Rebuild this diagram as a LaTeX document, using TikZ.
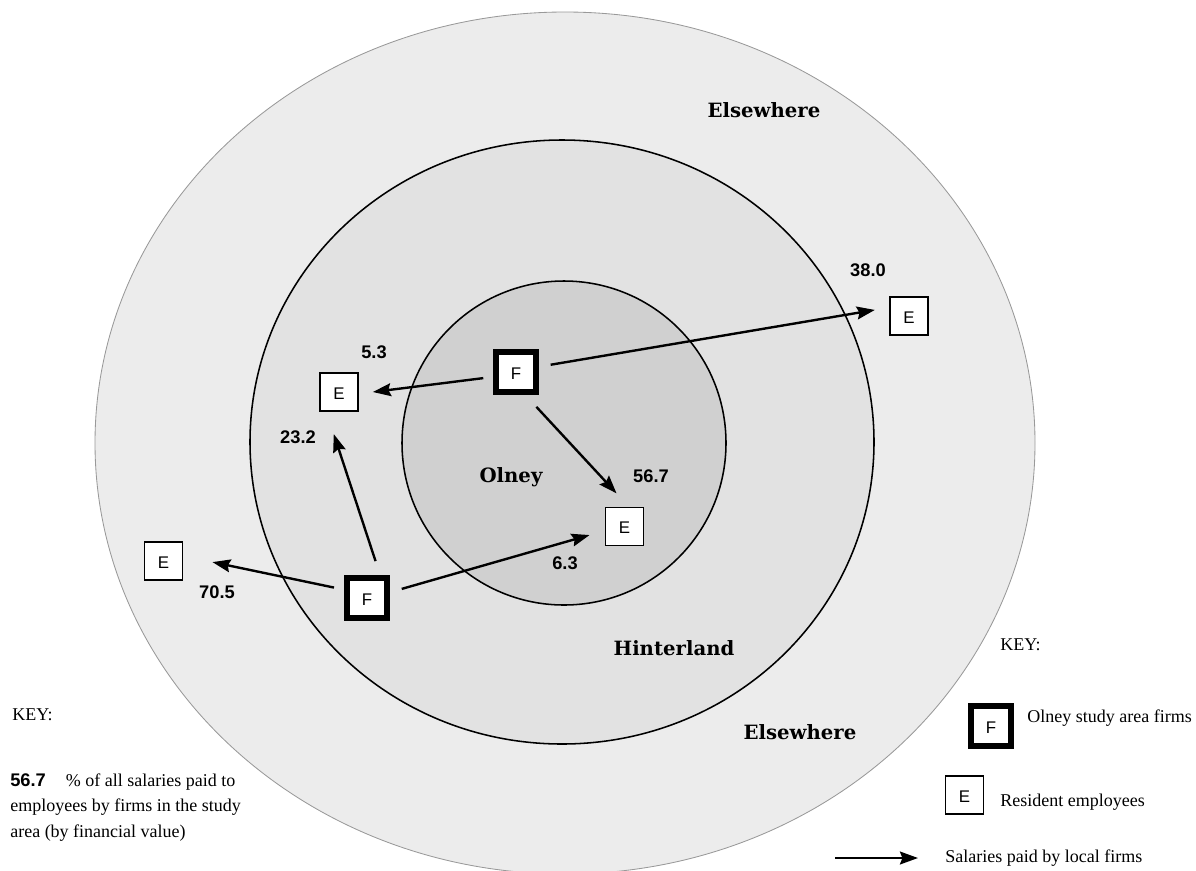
\documentclass[tikz,border=0pt]{standalone}
\usepackage{fontspec}
\setmainfont{Liberation Serif}
\setsansfont{Liberation Sans}
\newfontfamily\zonefont{DejaVu Serif}
\usepackage{xcolor}
\usepackage{tikz}
\usetikzlibrary{arrows.meta}
\definecolor{outerzone}{gray}{0.925}
\definecolor{middlezone}{gray}{0.885}
\definecolor{innerzone}{gray}{0.815}
\tikzstyle{firm} = [draw, rectangle, line width=4pt, fill=white, minimum
size=1cm, inner sep=0pt, text height=2.2ex, text depth=0pt,
font=\sffamily\fontsize{12}{12}\selectfont]
\tikzstyle{emp} = [draw, rectangle, line width=1.1pt, fill=white, minimum
size=0.96cm, inner sep=0pt, text height=2.2ex, text depth=0pt,
font=\sffamily\fontsize{12}{12}\selectfont]
\tikzstyle{arrow} = [line width=1.7pt,-{Stealth[length=0.45cm,width=0.32cm,inset=0.06cm]}]
\tikzstyle{value} = [inner sep=0pt, font=\sffamily\bfseries\fontsize{13}{13}\selectfont]
\tikzstyle{zone} = [inner sep=0pt, anchor=base, font=\zonefont\bfseries\fontsize{14}{14}\selectfont]
\tikzstyle{keytext} = [inner sep=0pt, anchor=base west, font=\fontsize{12.8}{12.8}\selectfont]

\begin{document}
\begin{tikzpicture}[x=0.025cm, y=-0.025cm]
\useasboundingbox (0,0) rectangle (1196,870);

% Place zones
\filldraw [fill=outerzone, draw=gray!80, line width=0.6pt] (565,443) ellipse [x radius=470, y radius=431];
\filldraw [fill=middlezone, draw=black, line width=1.1pt] (562,442) ellipse [x radius=312, y radius=302];
\filldraw [fill=innerzone, draw=black, line width=1.1pt] (564,443) ellipse [x radius=162, y radius=162];

\node [zone] (elsetop) at (764,117) {Elsewhere};
\node [zone] (olney) at (511,482) {Olney};
\node [zone] (hinter) at (674,655) {Hinterland};
\node [zone] (elsebot) at (800,739) {Elsewhere};

% Place nodes
\node [firm] (firmA) at (516,372) {F};
\node [firm] (firmB) at (367,598) {F};
\node [emp] (empNW) at (339,392) {E};
\node [emp] (empE) at (909,316) {E};
\node [emp] (empC) at (624.5,526.5) {E};
\node [emp] (empW) at (163.5,561) {E};

% Place lines
\draw [arrow, shorten <=0.3cm, shorten >=0.36cm] (firmA.13) -- (empE.157);
\draw [arrow, shorten <=0.25cm, shorten >=0.35cm] (firmA.192) -- (empNW.-5);
\draw [arrow, shorten <=0.41cm, shorten >=0.45cm] (firmA.292) -- (empC.78);
\draw [arrow, shorten <=0.31cm, shorten >=0.39cm] (firmB.14) -- (empC.192);
\draw [arrow, shorten <=0.37cm, shorten >=0.58cm] (firmB.60) -- (empNW.238);
\draw [arrow, shorten <=0.26cm, shorten >=0.74cm] (firmB.160) -- (empW.14);

% Place values
\node [value] (v380) at (868,270) {38.0};
\node [value] (v53) at (374,352) {5.3};
\node [value] (v232) at (298,437) {23.2};
\node [value] (v567) at (651,476) {56.7};
\node [value] (v63) at (565,563) {6.3};
\node [value] (v705) at (217,592) {70.5};

% Left key
\node [keytext] (keyleft) at (12,720) {KEY:};
\node [inner sep=0pt, anchor=north west, align=left,
  font=\fontsize{12.8}{18}\selectfont] (keynote) at (10,773.5)
  {\textsf{\bfseries\fontsize{13}{13}\selectfont 56.7}\hspace{0.5cm}\% of all salaries paid to\\
   employees by firms in the study\\
   area (by financial value)};

% Right key
\node [keytext] (keyright) at (1000,650) {KEY:};
\node [firm] (keyfirm) at (991,726) {F};
\node [keytext] (keyfirmtext) at (1027,722) {Olney study area firms};
\node [emp] (keyemp) at (964.5,795) {E};
\node [keytext] (keyemptext) at (1000,806) {Resident employees};
\coordinate (keytail) at (835,858);
\coordinate (keyhead) at (918,858);
\draw [arrow] (keytail) -- (keyhead);
\node [keytext] (keyarrowtext) at (945,862) {Salaries paid by local firms};

\end{tikzpicture}
\end{document}
